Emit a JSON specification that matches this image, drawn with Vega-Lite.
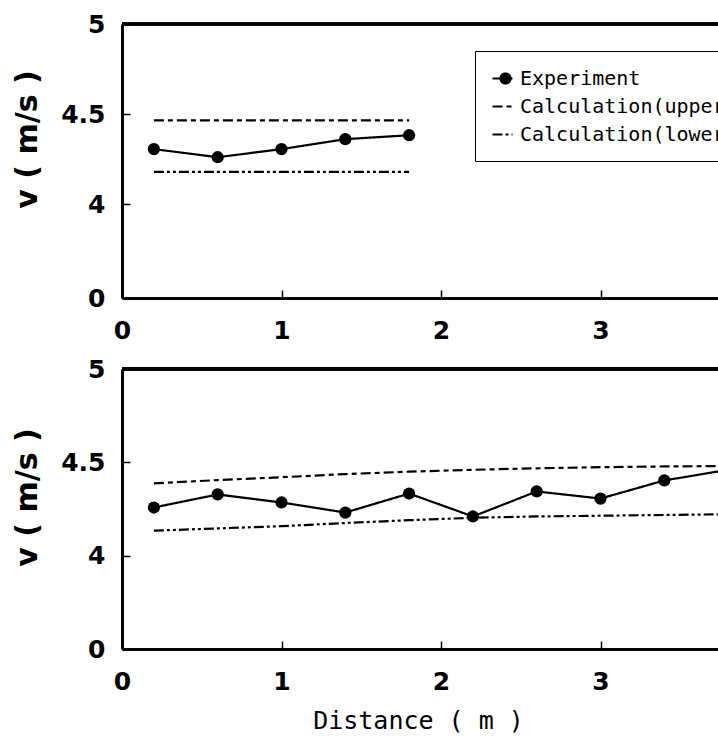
{
  "$schema": "https://vega.github.io/schema/vega-lite/v6.json",
  "background": "white",
  "padding": {"left": 12, "top": 12, "right": -44, "bottom": 4},
  "bounds": "flush",
  "spacing": 71,
  "config": {
    "view": {"stroke": null},
    "axis": {
      "domainColor": "black", "domainWidth": 3, "tickColor": "black", "tickSize": -8, "tickWidth": 1.5,
      "labelColor": "black", "labelFont": "DejaVu Sans", "labelFontWeight": "bold", "labelFontSize": 25,
      "labelFlush": false, "labelOverlap": false, "grid": false, "titleColor": "black"
    }
  },
  "datasets": {
    "top": [
      {"series": "Experiment", "distance": 0.2, "v": 4.306},
      {"series": "Experiment", "distance": 0.6, "v": 4.261},
      {"series": "Experiment", "distance": 1.0, "v": 4.306},
      {"series": "Experiment", "distance": 1.4, "v": 4.361},
      {"series": "Experiment", "distance": 1.8, "v": 4.383},
      {"series": "Calculation(upper)", "distance": 0.2, "v": 4.465},
      {"series": "Calculation(upper)", "distance": 1.8, "v": 4.465},
      {"series": "Calculation(lower)", "distance": 0.2, "v": 4.18},
      {"series": "Calculation(lower)", "distance": 1.8, "v": 4.18}
    ],
    "bottom": [
      {"series": "Experiment", "distance": 0.2, "v": 4.258},
      {"series": "Experiment", "distance": 0.6, "v": 4.328},
      {"series": "Experiment", "distance": 1.0, "v": 4.285},
      {"series": "Experiment", "distance": 1.4, "v": 4.231},
      {"series": "Experiment", "distance": 1.8, "v": 4.333},
      {"series": "Experiment", "distance": 2.2, "v": 4.21},
      {"series": "Experiment", "distance": 2.6, "v": 4.344},
      {"series": "Experiment", "distance": 3.0, "v": 4.306},
      {"series": "Experiment", "distance": 3.4, "v": 4.403},
      {"series": "Experiment", "distance": 3.8, "v": 4.46},
      {"series": "Calculation(upper)", "distance": 0.2, "v": 4.387},
      {"series": "Calculation(upper)", "distance": 0.6, "v": 4.405},
      {"series": "Calculation(upper)", "distance": 1.0, "v": 4.42},
      {"series": "Calculation(upper)", "distance": 1.4, "v": 4.437},
      {"series": "Calculation(upper)", "distance": 1.8, "v": 4.45},
      {"series": "Calculation(upper)", "distance": 2.2, "v": 4.46},
      {"series": "Calculation(upper)", "distance": 2.6, "v": 4.468},
      {"series": "Calculation(upper)", "distance": 3.0, "v": 4.474},
      {"series": "Calculation(upper)", "distance": 3.4, "v": 4.478},
      {"series": "Calculation(upper)", "distance": 3.8, "v": 4.48},
      {"series": "Calculation(lower)", "distance": 0.2, "v": 4.134},
      {"series": "Calculation(lower)", "distance": 0.6, "v": 4.146},
      {"series": "Calculation(lower)", "distance": 1.0, "v": 4.158},
      {"series": "Calculation(lower)", "distance": 1.4, "v": 4.175},
      {"series": "Calculation(lower)", "distance": 1.8, "v": 4.19},
      {"series": "Calculation(lower)", "distance": 2.2, "v": 4.203},
      {"series": "Calculation(lower)", "distance": 2.6, "v": 4.21},
      {"series": "Calculation(lower)", "distance": 3.0, "v": 4.214},
      {"series": "Calculation(lower)", "distance": 3.4, "v": 4.218},
      {"series": "Calculation(lower)", "distance": 3.8, "v": 4.222}
    ]
  },
  "vconcat": [
    {
      "width": 638,
      "height": 274,
      "data": {"name": "top"},
      "encoding": {
        "x": {"field": "distance", "type": "quantitative", "scale": {"domain": [0, 4], "nice": false},
              "axis": {"values": [0, 1, 2, 3], "format": "d", "title": null, "labelPadding": 28}},
        "y": {"field": "v", "type": "quantitative", "scale": {"domain": [3.48, 5], "nice": false, "zero": false},
              "axis": {"values": [3.48, 4, 4.5, 5], "format": "~g", "labelExpr": "datum.value < 3.9 ? '0' : datum.label",
                       "labelPadding": 25, "title": "v ( m/s )", "titleFont": "DejaVu Sans", "titleFontWeight": "bold",
                       "titleFontSize": 30, "titlePadding": 18, "titleY": 115}}
      },
      "layer": [
        {"mark": {"type": "rule", "color": "black", "strokeWidth": 2.5}, "encoding": {"x": null, "y": {"datum": 5, "type": "quantitative"}}},
        {"mark": {"type": "line", "color": "black", "strokeWidth": 2.2, "clip": true},
         "encoding": {"strokeDash": {"field": "series", "type": "nominal",
           "scale": {"domain": ["Experiment", "Calculation(upper)", "Calculation(lower)"], "range": [[1, 0], [10, 4, 5, 4], [10, 3, 3, 3, 3, 3]]},
           "legend": {"title": null, "orient": "none", "legendX": 353, "legendY": 27, "padding": 16, "rowPadding": 6,
                      "strokeColor": "black", "symbolSize": 400, "symbolStrokeWidth": 2.2, "symbolStrokeColor": "black",
                      "labelFont": "DejaVu Sans Mono", "labelFontSize": 20, "labelColor": "black", "labelOffset": 6, "labelLimit": 400,
                      "encode": {"symbols": {"update": {
                        "shape": {"signal": "datum.value === 'Experiment' ? 'M-1,0H1M-0.2,0A0.5,0.5 0 1,0 0.8,0A0.5,0.5 0 1,0 -0.2,0Z' : 'M-1,0H1'"},
                        "fill": {"signal": "datum.value === 'Experiment' ? 'black' : 'transparent'"},
                        "stroke": {"value": "black"}}}}}}}},
        {"transform": [{"filter": "datum.series === 'Experiment'"}],
         "mark": {"type": "point", "filled": true, "color": "black", "size": 150, "opacity": 1, "clip": true}}
      ]
    },
    {
      "width": 638,
      "height": 280,
      "data": {"name": "bottom"},
      "encoding": {
        "x": {"field": "distance", "type": "quantitative", "scale": {"domain": [0, 4], "nice": false},
              "axis": {"values": [0, 1, 2, 3], "format": "d", "title": "Distance ( m )", "labelPadding": 28,
                       "titleFont": "DejaVu Sans Mono", "titleFontSize": 25, "titleFontWeight": "normal", "titlePadding": 14, "titleX": 296}},
        "y": {"field": "v", "type": "quantitative", "scale": {"domain": [3.5, 5], "nice": false, "zero": false},
              "axis": {"values": [3.5, 4, 4.5, 5], "format": "~g", "labelExpr": "datum.value < 3.9 ? '0' : datum.label",
                       "labelPadding": 25, "title": "v ( m/s )", "titleFont": "DejaVu Sans", "titleFontWeight": "bold",
                       "titleFontSize": 30, "titlePadding": 18, "titleY": 128}}
      },
      "layer": [
        {"mark": {"type": "rule", "color": "black", "strokeWidth": 2.5}, "encoding": {"x": null, "y": {"datum": 5, "type": "quantitative"}}},
        {"mark": {"type": "line", "color": "black", "strokeWidth": 2.2, "clip": true},
         "encoding": {"strokeDash": {"field": "series", "type": "nominal",
           "scale": {"domain": ["Experiment", "Calculation(upper)", "Calculation(lower)"], "range": [[1, 0], [10, 4, 5, 4], [10, 3, 3, 3, 3, 3]]},
           "legend": null}}},
        {"transform": [{"filter": "datum.series === 'Experiment'"}],
         "mark": {"type": "point", "filled": true, "color": "black", "size": 150, "opacity": 1, "clip": true}}
      ]
    }
  ]
}
